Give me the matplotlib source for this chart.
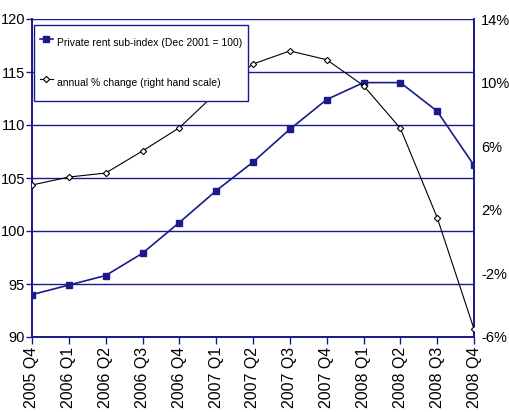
import matplotlib
matplotlib.use("Agg")
import matplotlib.pyplot as plt
from matplotlib.ticker import FuncFormatter

plt.rcParams['font.family'] = ['Liberation Sans', 'DejaVu Sans']

# quarters on the x axis
quarters = ["2005 Q4", "2006 Q1", "2006 Q2", "2006 Q3", "2006 Q4",
            "2007 Q1", "2007 Q2", "2007 Q3", "2007 Q4",
            "2008 Q1", "2008 Q2", "2008 Q3", "2008 Q4"]

# private rent sub-index, Dec 2001 = 100 (left axis)
rent_index = [94.0, 94.9, 95.8, 97.9, 100.8, 103.8, 106.5,
              109.6, 112.4, 114.0, 114.0, 111.3, 106.2]

# annual % change (right axis)
annual_change = [3.56, 4.06, 4.31, 5.70, 7.16, 9.35, 11.17,
                 11.99, 11.44, 9.81, 7.13, 1.51, -5.5]

navy = '#1a1a8c'
x = list(range(len(quarters)))

fig = plt.figure(figsize=(5.09, 4.12), dpi=100)
ax = fig.add_axes([32 / 509, 75 / 412, 442 / 509, 318 / 412])
ax2 = ax.twinx()

# gridlines for the left scale
ax.set_ylim(90, 120)
ax.set_yticks(range(90, 121, 5))
for v in range(95, 121, 5):
    ax.axhline(v, color=navy, linewidth=1.0, zorder=1)

l1, = ax.plot(x, rent_index, color=navy, linewidth=1.2, marker='s',
              markersize=4.5, markerfacecolor=navy, markeredgecolor=navy,
              label='Private rent sub-index (Dec 2001 = 100)', zorder=3)

l2, = ax2.plot(x, annual_change, color='black', linewidth=0.8, marker='D',
               markersize=3.2, markerfacecolor='white', markeredgecolor='black',
               markeredgewidth=0.8, label='annual % change (right hand scale)',
               zorder=3)

ax.set_xlim(0, 12)
ax.set_xticks(x)
ax.set_xticklabels(quarters, rotation=90, fontsize=11.5)
ax2.set_ylim(-6, 14)
ax2.set_yticks(range(-6, 15, 4))
ax2.yaxis.set_major_formatter(FuncFormatter(lambda v, p: f'{int(v)}%'))

for a in (ax, ax2):
    for side, sp in a.spines.items():
        sp.set_color(navy)
        sp.set_linewidth(1.3)
    a.spines['top'].set_visible(False)
ax.tick_params(axis='x', colors=navy, length=5, width=1, labelcolor='black', pad=2)
ax.tick_params(axis='y', colors=navy, length=4, width=1, labelcolor='black',
               labelsize=10.5, pad=1)
ax2.tick_params(axis='y', length=0, labelcolor='black', labelsize=10.5, pad=5)

leg = ax2.legend(handles=[l1, l2], loc='upper left',
                 bbox_to_anchor=(2 / 442, 1 - 6 / 318), borderaxespad=0,
                 frameon=True, fancybox=False, framealpha=1, edgecolor=navy,
                 fontsize=7.5, handlelength=1.2, handleheight=3.1,
                 handletextpad=0.4, borderpad=0.6, labelspacing=1.6)
leg.get_frame().set_linewidth(1.0)
leg.set_zorder(5)

fig.savefig('out.png', dpi=100, facecolor='white')
